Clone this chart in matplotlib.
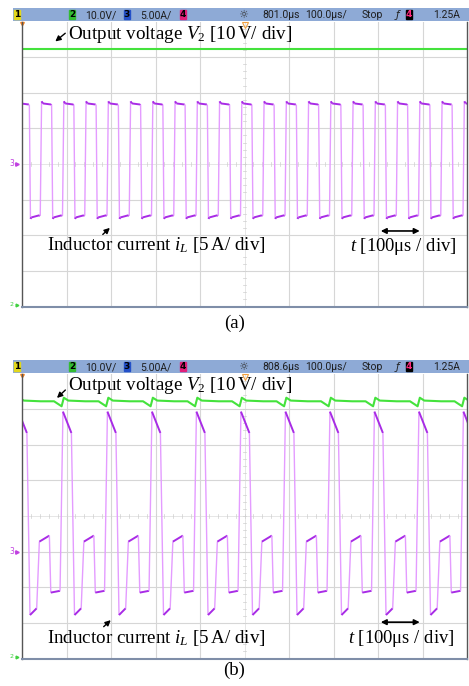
import numpy as np
import matplotlib.pyplot as plt
from matplotlib.patches import Rectangle
from matplotlib.collections import LineCollection
from matplotlib.transforms import blended_transform_factory

W, H = 469, 686

# Datos (unidades: divisiones de la pantalla)
# (a) una conmutación de la corriente del inductor
a_t = [0.0, 0.03, 0.06, 0.245, 0.255, 0.28, 0.30, 0.48]
a_i = [-1.45, 1.76, 1.70, 1.67, 1.67, -1.54, -1.50, -1.44]
a_edges = [0, 4]
a_period = 0.5
a_start = 0.41
a_v2_t = [0.0, 0.5]
a_v2 = [3.22, 3.22]

# (b) un periodo con dos pulsos
b_t = [0.0, 0.19, 0.26, 0.41, 0.47, 0.695, 0.727, 0.935]
b_i = [2.93, 2.33, -2.78, -2.59, -0.72, -0.55, -2.15, -2.10]
b_edges = [1, 3, 5, 7]
b_period = 1.0
b_start = -0.08
b_v2_t = [-0.2, -0.03, 0.02, 0.12, 0.5]
b_v2 = [3.22, 3.08, 3.32, 3.24, 3.22]

header_a = ["10.0V/", "5.00A/", "801.0µs", "100.0µs/", "Stop", "1.25A"]
header_b = ["10.0V/", "5.00A/", "808.6µs", "100.0µs/", "Stop", "1.25A"]

serif = "Liberation Serif"
plt.rcParams['mathtext.fontset'] = 'custom'
plt.rcParams['mathtext.rm'] = serif
plt.rcParams['mathtext.it'] = serif + ':italic'

fig = plt.figure(figsize=(W / 100, H / 100), dpi=100)


def tile(ts, vs, period, start):
    t, v, k = [], [], []
    for n in range(-2, int(10 / period) + 3):
        for j, (tt, vv) in enumerate(zip(ts, vs)):
            t.append(start + n * period + tt)
            v.append(vv)
            k.append(j)
    return np.array(t), np.array(v), k


def header(top, texts):
    hx = fig.add_axes([13 / W, 1 - (top + 13) / H, (W - 13) / W, 13 / H])
    hx.set_xlim(13, W)
    hx.set_ylim(0, 1)
    hx.set_facecolor('#8eaad6')
    hx.set_xticks([])
    hx.set_yticks([])
    for s in hx.spines.values():
        s.set_visible(False)
    for x, d, bg, fg in [(17, '1', '#e2d81c', 'black'), (72, '2', '#33bb33', 'black'),
                         (127, '3', '#2350c8', 'black'), (183, '4', '#e0207a', 'black'),
                         (409, '4', 'black', '#ff2a80')]:
        hx.add_patch(Rectangle((x - 3, 0.12), 6, 0.76, color=bg))
        hx.text(x, 0.48, d, ha='center', va='center', fontsize=6.5,
                color=fg, fontweight='bold', family='DejaVu Sans')
    for x, s in zip([85, 140, 262, 305, 362, 433], texts):
        hx.text(x, 0.45, s, ha='left', va='center', fontsize=7.5, color='#1e1e1e',
                family='Roboto')
    hx.text(243, 0.45, '☼', ha='center', va='center', fontsize=8, color='#333333',
            family='DejaVu Sans')
    hx.text(397, 0.45, 'ƒ', ha='center', va='center', fontsize=7.5, color='#222222',
            family='DejaVu Sans', style='italic')


def panel(top, ts, vs, edges, period, start, vt, vv, gnd3, labels):
    ax = fig.add_axes([22 / W, 1 - (top + 285) / H, 445 / W, 285 / H])
    ax.set_xlim(0, 10)
    ax.set_ylim(-4, 4)
    ax.set_xticks([])
    ax.set_yticks([])

    # retícula del osciloscopio
    for x in range(1, 10):
        if x != 5:
            ax.axvline(x, color='#d6d6d6', lw=0.8, zorder=0)
    for y in range(-3, 4):
        if y != 0:
            ax.axhline(y, color='#d6d6d6', lw=0.8, zorder=0)
    ax.axvline(5, color='#e2e2e2', lw=0.6, zorder=0)
    ax.axhline(0, color='#e2e2e2', lw=0.6, zorder=0)
    for m in np.arange(0.2, 10, 0.2):
        ax.plot([m, m], [-0.05, 0.05], color='#cfcfcf', lw=0.5, zorder=0)
    for m in np.arange(-3.8, 4, 0.2):
        ax.plot([4.96, 5.04], [m, m], color='#cfcfcf', lw=0.5, zorder=0)

    for s in ['left', 'right']:
        ax.spines[s].set_color('#555555')
        ax.spines[s].set_linewidth(1.0)
    ax.spines['bottom'].set_color('#7f8ea8')
    ax.spines['bottom'].set_linewidth(1.5)
    ax.spines['top'].set_visible(False)

    # tensión de salida (verde)
    t, v, _ = tile(vt, vv, period, start)
    ax.plot(t, v, color='#44e23c', lw=1.5)

    # corriente del inductor (flancos más claros)
    t, v, k = tile(ts, vs, period, start)
    segs, cols, lws = [], [], []
    for j in range(len(t) - 1):
        segs.append([(t[j], v[j]), (t[j + 1], v[j + 1])])
        edge = k[j] in edges
        cols.append('#e49cff' if edge else '#a82be6')
        lws.append(1.0 if edge else 1.4)
    ax.add_collection(LineCollection(segs, colors=cols, linewidths=lws))

    # marcas de tierra y disparo
    tr = blended_transform_factory(ax.transAxes, ax.transData)
    ax.text(-0.018, gnd3, '3', transform=tr, ha='right', va='center', fontsize=5.5,
            color='#c040e0', clip_on=False)
    ax.plot([-0.012], [gnd3], '>', ms=2.5, color='#c040e0', transform=tr, clip_on=False)
    ax.text(-0.018, -3.95, '2', transform=tr, ha='right', va='center', fontsize=4.5,
            color='#40d040', clip_on=False)
    ax.plot([-0.012], [-3.95], '>', ms=2, color='#40d040', transform=tr, clip_on=False)
    ax.plot([0.0], [3.96], marker=(3, 0, 180), ms=3, color='#f08020', clip_on=False)
    ax.plot([5.0], [3.9], marker='v', ms=4, mfc='none', mec='#f0a040', mew=0.8,
            clip_on=False)

    # rótulos
    (tx, ty), (hx_, hy), (ix, iy), (ax_, ay), (sx, sy), ay2 = labels
    ax.text(tx, ty, r'Output voltage $V_2$ [10$\,$V/ div]', family=serif,
            fontsize=13.7, va='baseline')
    ax.annotate('', xy=(hx_, hy), xytext=(1.02, hy + 0.33),
                arrowprops=dict(arrowstyle='-|>', color='black', lw=1, mutation_scale=8))
    ax.text(ix, iy, r'Inductor current $i_L$ [5$\,$A/ div]', family=serif,
            fontsize=13.7, va='baseline')
    ax.annotate('', xy=(ax_, ay), xytext=(ax_ - 0.25, ay - 0.29),
                arrowprops=dict(arrowstyle='-|>', color='black', lw=1, mutation_scale=8))
    ax.text(sx, sy, r'$t$ [100μs / div]', family=serif, fontsize=13.4, va='baseline')
    ax.annotate('', xy=(8.0, ay2), xytext=(9.0, ay2),
                arrowprops=dict(arrowstyle='<|-|>', color='black', lw=1.2, mutation_scale=8))
    return ax


header(8, header_a)
panel(21.5, a_t, a_i, a_edges, a_period, a_start, a_v2_t, a_v2, 0.0,
      [(1.03, 3.5), (0.70, 3.39), (0.56, -2.41), (2.02, -1.74), (7.36, -2.44), -1.88])
fig.text(0.5, 1 - 323 / H, '(a)', ha='center', va='center', family=serif, fontsize=13.5)

header(360, header_b)
panel(373.5, b_t, b_i, b_edges, b_period, b_start, b_v2_t, b_v2, -1.0,
      [(1.03, 3.54), (0.74, 3.26), (0.56, -3.57), (2.04, -2.87), (7.32, -3.57), -2.98])
fig.text(0.5, 1 - 670 / H, '(b)', ha='center', va='center', family=serif, fontsize=13.5)

fig.savefig('out.png', dpi=100)
